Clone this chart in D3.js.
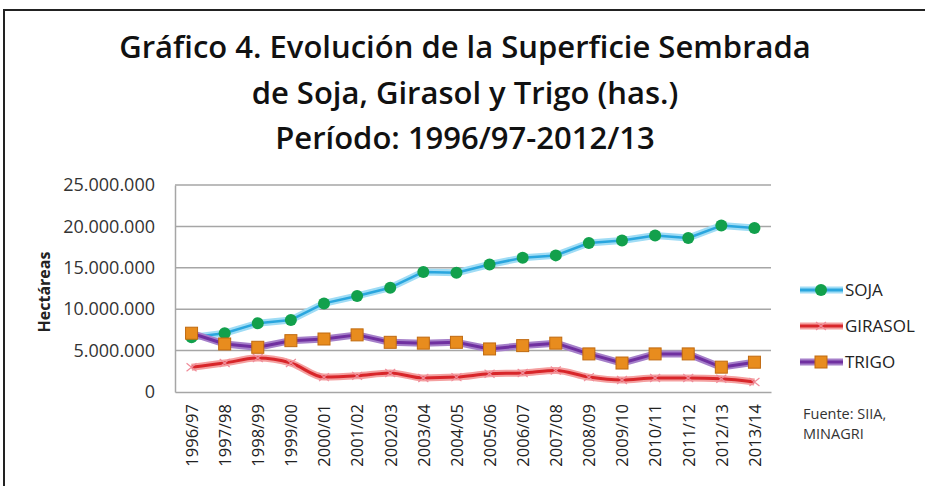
<!DOCTYPE html>
<html>
<head>
<meta charset="utf-8">
<script src="https://cdn.jsdelivr.net/npm/d3@7"></script>
<style>
body { margin:0; background:#fff; }
svg { display:block; font-family:"Open Sans", "Noto Sans", sans-serif; }
</style>
</head>
<body>
<svg id="chart" width="925" height="486"></svg>
<script>
var campanas = ["1996/97","1997/98","1998/99","1999/00","2000/01","2001/02","2002/03","2003/04","2004/05",
	"2005/06","2006/07","2007/08","2008/09","2009/10","2010/11","2011/12","2012/13","2013/14"];
var soja = [6600000,7100000,8300000,8700000,10700000,11600000,12600000,14500000,14400000,
	15400000,16200000,16500000,18000000,18300000,18900000,18600000,20100000,19800000];
var girasol = [3000000,3500000,4100000,3500000,1800000,1950000,2300000,1700000,1800000,
	2200000,2300000,2600000,1800000,1450000,1700000,1700000,1600000,1200000];
var trigo = [7100000,5800000,5400000,6200000,6400000,6900000,6000000,5900000,6000000,
	5200000,5600000,5900000,4600000,3500000,4600000,4600000,3000000,3600000];
var yTicks = [0,5000000,10000000,15000000,20000000,25000000];

var svg = d3.select('#chart');
var plotLeft = 175, plotRight = 771, plotTop = 185, plotBottom = 392;

// frame
svg.append('rect').attr('x',4).attr('y',10).attr('width',940).attr('height',500)
	.attr('fill','none').attr('stroke','#222').attr('stroke-width',2);

// title
var titulo = ["Gráfico 4. Evolución de la Superficie Sembrada","de Soja, Girasol y Trigo (has.)","Período: 1996/97-2012/13"];
svg.selectAll('text.titulo').data(titulo).enter().append('text')
	.attr('class','titulo')
	.attr('x',465)
	.attr('y',function(d,i){ return 58 + i*45.5; })
	.attr('text-anchor','middle')
	.attr('font-size',31)
	.attr('font-weight',600)
	.attr('fill','#111')
	.text(function(d){ return d; });

var x = d3.scalePoint().domain(campanas).range([plotLeft, plotRight]).padding(0.5);
var y = d3.scaleLinear().domain([0,25000000]).range([plotBottom, plotTop]);

// grid
svg.append('g').selectAll('line').data(yTicks.slice(1)).enter().append('line')
	.attr('x1',plotLeft).attr('x2',plotRight)
	.attr('y1',function(d){ return y(d); }).attr('y2',function(d){ return y(d); })
	.attr('stroke','#a6a6a6').attr('stroke-width',1.5);

var fmt = function(d){ return d3.format(',')(d).replace(/,/g,'.'); };
var yAxis = svg.append('g').attr('transform','translate(' + plotLeft + ',0)')
	.call(d3.axisLeft(y).tickValues(yTicks).tickFormat(fmt).tickSize(0).tickPadding(20));
yAxis.select('.domain').attr('stroke','#a6a6a6').attr('stroke-width',1.5);
yAxis.selectAll('text').attr('font-size',18).attr('fill','#333').attr('font-family','Open Sans, sans-serif');

var xAxis = svg.append('g').attr('transform','translate(0,' + plotBottom + ')')
	.call(d3.axisBottom(x).tickSize(0).tickPadding(0));
xAxis.select('.domain').attr('stroke','#a6a6a6').attr('stroke-width',1.5);
xAxis.selectAll('text')
	.attr('font-size',16.5).attr('fill','#222').attr('font-family','Open Sans, sans-serif')
	.attr('transform','rotate(-90)')
	.attr('text-anchor','end')
	.attr('x',-12).attr('y',0).attr('dy','0.35em');

svg.append('text')
	.attr('transform','translate(50,292) rotate(-90)')
	.attr('text-anchor','middle')
	.attr('font-size',16).attr('font-weight','bold').attr('fill','#222')
	.text('Hectáreas');

var series = [
	{ name:'SOJA', values:soja, glow:'#9fdcf5', color:'#2aa6de', mark:'circle', fill:'#12a04c', curve:d3.curveLinear },
	{ name:'GIRASOL', values:girasol, glow:'#f4a0a0', color:'#d8262a', mark:'x', fill:'#f08c9a', curve:d3.curveMonotoneX },
	{ name:'TRIGO', values:trigo, glow:'#a57fc9', color:'#7030a0', mark:'square', fill:'#e88c1e', curve:d3.curveLinear }
];

series.forEach(function(s){
	var line = d3.line()
		.x(function(d,i){ return x(campanas[i]); })
		.y(function(d){ return y(d); })
		.curve(s.curve);
	svg.append('path').datum(s.values).attr('d',line)
		.attr('fill','none').attr('stroke',s.glow).attr('stroke-width',7).attr('stroke-linejoin','round');
	svg.append('path').datum(s.values).attr('d',line)
		.attr('fill','none').attr('stroke',s.color).attr('stroke-width',s.name == 'SOJA' ? 2.5 : 3).attr('stroke-linejoin','round');
	drawMarks(svg.append('g'), s, s.values.map(function(d,i){ return [x(campanas[i]), y(d)]; }));
});

function drawMarks(g, s, pts){
	pts.forEach(function(p){
		if (s.mark == 'circle'){
			g.append('circle').attr('cx',p[0]).attr('cy',p[1]).attr('r',6).attr('fill',s.fill);
		} else if (s.mark == 'square'){
			g.append('rect').attr('x',p[0]-6).attr('y',p[1]-6).attr('width',12).attr('height',12)
				.attr('fill',s.fill).attr('stroke','#c06a10').attr('stroke-width',1);
		} else {
			g.append('path').attr('d','M' + (p[0]-5) + ',' + (p[1]-4) + 'L' + (p[0]+5) + ',' + (p[1]+4)
				+ 'M' + (p[0]-5) + ',' + (p[1]+4) + 'L' + (p[0]+5) + ',' + (p[1]-4))
				.attr('stroke',s.fill).attr('stroke-width',1.2);
		}
	});
}

// legend
var legY = [290, 326, 362];
series.forEach(function(s, i){
	var g = svg.append('g');
	g.append('line').attr('x1',800).attr('x2',843).attr('y1',legY[i]).attr('y2',legY[i])
		.attr('stroke',s.glow).attr('stroke-width',7);
	g.append('line').attr('x1',800).attr('x2',843).attr('y1',legY[i]).attr('y2',legY[i])
		.attr('stroke',s.color).attr('stroke-width',3);
	drawMarks(g, s, [[821, legY[i]]]);
	g.append('text').attr('x',845).attr('y',legY[i]).attr('dy','0.35em')
		.attr('font-size',17).attr('fill','#222').text(s.name);
});

svg.append('text').attr('x',803).attr('y',419).attr('font-size',14.5).attr('fill','#333').text('Fuente: SIIA,');
svg.append('text').attr('x',803).attr('y',439).attr('font-size',14.5).attr('fill','#333').text('MINAGRI');
</script>
</body>
</html>
